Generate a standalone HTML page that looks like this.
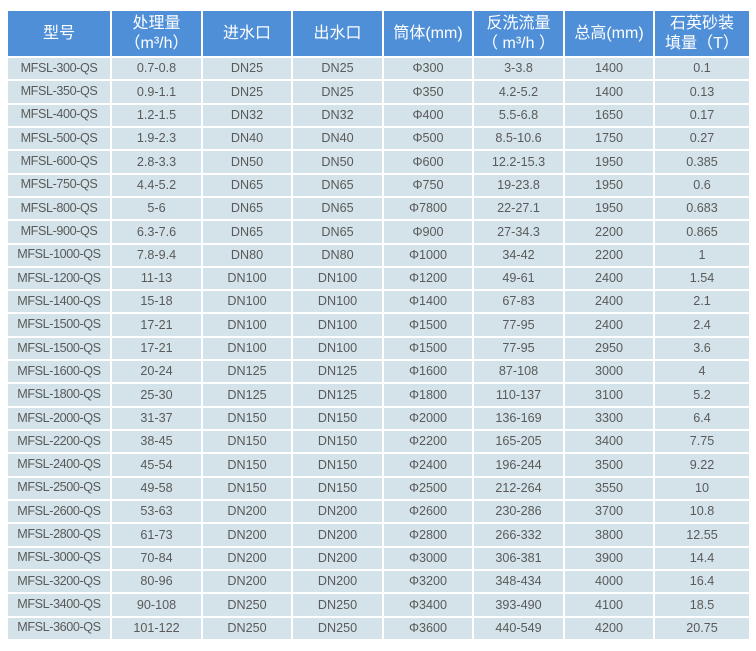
<!DOCTYPE html>
<html><head><meta charset="utf-8">
<style>
html,body{margin:0;padding:0;background:#fff;}
body{width:756px;height:651px;position:relative;overflow:hidden;font-family:"Liberation Sans","Noto Sans CJK SC",sans-serif;}
.g{position:absolute;left:8px;top:11px;width:741px;display:grid;grid-template-columns:102px 89px 88px 89px 88px 89px 88px 94px;grid-template-rows:45px repeat(25,21.32px);column-gap:2px;row-gap:2px;background:#fff;}
.g div{background:#d3e3e9;color:#5a5a5a;font-size:12.6px;display:flex;align-items:center;justify-content:center;text-align:center;white-space:nowrap;line-height:1;}
.g div.h{background:#4f8fd8;color:#fff;font-size:16px;line-height:20px;flex-direction:column;}
.g div.m{letter-spacing:-0.4px;padding-bottom:1px;}
</style></head><body>
<div class="g">
<div class="h">型号</div><div class="h"><span>处理量</span><span>（m³/h）</span></div><div class="h">进水口</div><div class="h">出水口</div><div class="h">筒体(mm)</div><div class="h"><span>反洗流量</span><span>（ m³/h ）</span></div><div class="h">总高(mm)</div><div class="h"><span>石英砂装</span><span>填量（T）</span></div>

<div class="m">MFSL-300-QS</div><div>0.7-0.8</div><div>DN25</div><div>DN25</div><div>Φ300</div><div>3-3.8</div><div>1400</div><div>0.1</div>
<div class="m">MFSL-350-QS</div><div>0.9-1.1</div><div>DN25</div><div>DN25</div><div>Φ350</div><div>4.2-5.2</div><div>1400</div><div>0.13</div>
<div class="m">MFSL-400-QS</div><div>1.2-1.5</div><div>DN32</div><div>DN32</div><div>Φ400</div><div>5.5-6.8</div><div>1650</div><div>0.17</div>
<div class="m">MFSL-500-QS</div><div>1.9-2.3</div><div>DN40</div><div>DN40</div><div>Φ500</div><div>8.5-10.6</div><div>1750</div><div>0.27</div>
<div class="m">MFSL-600-QS</div><div>2.8-3.3</div><div>DN50</div><div>DN50</div><div>Φ600</div><div>12.2-15.3</div><div>1950</div><div>0.385</div>
<div class="m">MFSL-750-QS</div><div>4.4-5.2</div><div>DN65</div><div>DN65</div><div>Φ750</div><div>19-23.8</div><div>1950</div><div>0.6</div>
<div class="m">MFSL-800-QS</div><div>5-6</div><div>DN65</div><div>DN65</div><div>Φ7800</div><div>22-27.1</div><div>1950</div><div>0.683</div>
<div class="m">MFSL-900-QS</div><div>6.3-7.6</div><div>DN65</div><div>DN65</div><div>Φ900</div><div>27-34.3</div><div>2200</div><div>0.865</div>
<div class="m">MFSL-1000-QS</div><div>7.8-9.4</div><div>DN80</div><div>DN80</div><div>Φ1000</div><div>34-42</div><div>2200</div><div>1</div>
<div class="m">MFSL-1200-QS</div><div>11-13</div><div>DN100</div><div>DN100</div><div>Φ1200</div><div>49-61</div><div>2400</div><div>1.54</div>
<div class="m">MFSL-1400-QS</div><div>15-18</div><div>DN100</div><div>DN100</div><div>Φ1400</div><div>67-83</div><div>2400</div><div>2.1</div>
<div class="m">MFSL-1500-QS</div><div>17-21</div><div>DN100</div><div>DN100</div><div>Φ1500</div><div>77-95</div><div>2400</div><div>2.4</div>
<div class="m">MFSL-1500-QS</div><div>17-21</div><div>DN100</div><div>DN100</div><div>Φ1500</div><div>77-95</div><div>2950</div><div>3.6</div>
<div class="m">MFSL-1600-QS</div><div>20-24</div><div>DN125</div><div>DN125</div><div>Φ1600</div><div>87-108</div><div>3000</div><div>4</div>
<div class="m">MFSL-1800-QS</div><div>25-30</div><div>DN125</div><div>DN125</div><div>Φ1800</div><div>110-137</div><div>3100</div><div>5.2</div>
<div class="m">MFSL-2000-QS</div><div>31-37</div><div>DN150</div><div>DN150</div><div>Φ2000</div><div>136-169</div><div>3300</div><div>6.4</div>
<div class="m">MFSL-2200-QS</div><div>38-45</div><div>DN150</div><div>DN150</div><div>Φ2200</div><div>165-205</div><div>3400</div><div>7.75</div>
<div class="m">MFSL-2400-QS</div><div>45-54</div><div>DN150</div><div>DN150</div><div>Φ2400</div><div>196-244</div><div>3500</div><div>9.22</div>
<div class="m">MFSL-2500-QS</div><div>49-58</div><div>DN150</div><div>DN150</div><div>Φ2500</div><div>212-264</div><div>3550</div><div>10</div>
<div class="m">MFSL-2600-QS</div><div>53-63</div><div>DN200</div><div>DN200</div><div>Φ2600</div><div>230-286</div><div>3700</div><div>10.8</div>
<div class="m">MFSL-2800-QS</div><div>61-73</div><div>DN200</div><div>DN200</div><div>Φ2800</div><div>266-332</div><div>3800</div><div>12.55</div>
<div class="m">MFSL-3000-QS</div><div>70-84</div><div>DN200</div><div>DN200</div><div>Φ3000</div><div>306-381</div><div>3900</div><div>14.4</div>
<div class="m">MFSL-3200-QS</div><div>80-96</div><div>DN200</div><div>DN200</div><div>Φ3200</div><div>348-434</div><div>4000</div><div>16.4</div>
<div class="m">MFSL-3400-QS</div><div>90-108</div><div>DN250</div><div>DN250</div><div>Φ3400</div><div>393-490</div><div>4100</div><div>18.5</div>
<div class="m">MFSL-3600-QS</div><div>101-122</div><div>DN250</div><div>DN250</div><div>Φ3600</div><div>440-549</div><div>4200</div><div>20.75</div>
</div>
</body></html>
